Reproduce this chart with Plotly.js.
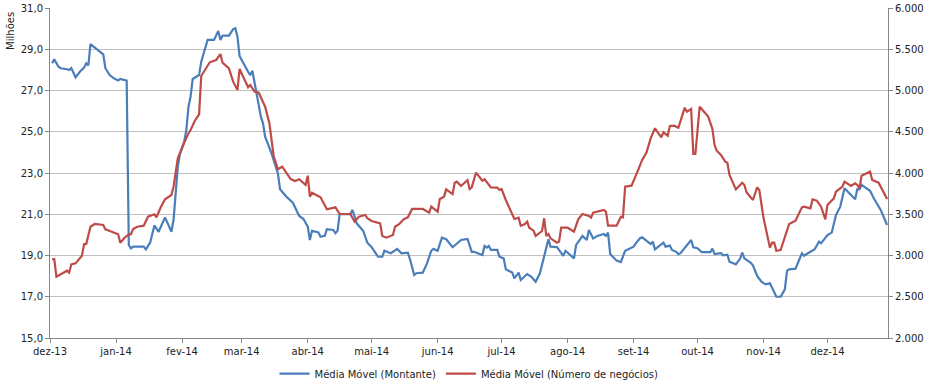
<!DOCTYPE html>
<html>
<head>
<meta charset="utf-8">
<script src="https://cdn.plot.ly/plotly-3.0.1.min.js"></script>
<style>html,body{margin:0;padding:0;background:#fff;}#chart{width:932px;height:382px;}</style>
</head>
<body>
<div id="chart"></div>
<script>
// Média Móvel (Montante), milhões
const montanteDates = ['2013-12-02','2013-12-03','2013-12-05','2013-12-06','2013-12-09','2013-12-10','2013-12-11','2013-12-13','2013-12-15','2013-12-17','2013-12-18','2013-12-19','2013-12-20','2013-12-22','2013-12-26','2013-12-27','2013-12-29','2013-12-31',
'2014-01-02','2014-01-03','2014-01-06','2014-01-07','2014-01-08','2014-01-09','2014-01-14','2014-01-15','2014-01-17','2014-01-19','2014-01-21','2014-01-24','2014-01-27','2014-01-28','2014-01-30','2014-01-31',
'2014-02-02','2014-02-03','2014-02-04','2014-02-05','2014-02-06','2014-02-09','2014-02-10','2014-02-13','2014-02-16','2014-02-18','2014-02-19','2014-02-20','2014-02-23','2014-02-25','2014-02-26','2014-02-27','2014-02-28',
'2014-03-04','2014-03-05','2014-03-06','2014-03-07','2014-03-08','2014-03-10','2014-03-11','2014-03-12','2014-03-15','2014-03-18','2014-03-19','2014-03-22','2014-03-25','2014-03-28','2014-03-30',
'2014-04-01','2014-04-02','2014-04-03','2014-04-06','2014-04-07','2014-04-09','2014-04-10','2014-04-13','2014-04-14','2014-04-15','2014-04-16','2014-04-21','2014-04-22','2014-04-24','2014-04-27','2014-04-29',
'2014-05-01','2014-05-04','2014-05-06','2014-05-07','2014-05-10','2014-05-13','2014-05-15','2014-05-18','2014-05-19','2014-05-21','2014-05-22','2014-05-25','2014-05-27','2014-05-29','2014-05-30',
'2014-06-01','2014-06-03','2014-06-05','2014-06-08','2014-06-12','2014-06-15','2014-06-17','2014-06-18','2014-06-22','2014-06-23','2014-06-24','2014-06-25','2014-06-26','2014-06-29','2014-06-30',
'2014-07-02','2014-07-03','2014-07-06','2014-07-07','2014-07-09','2014-07-10','2014-07-13','2014-07-15','2014-07-17','2014-07-19','2014-07-21','2014-07-23','2014-07-24','2014-07-27','2014-07-30','2014-07-31',
'2014-08-04','2014-08-05','2014-08-08','2014-08-10','2014-08-11','2014-08-13','2014-08-15','2014-08-18','2014-08-19','2014-08-20','2014-08-21','2014-08-24','2014-08-26','2014-08-28',
'2014-09-01','2014-09-02','2014-09-04','2014-09-05','2014-09-08','2014-09-09','2014-09-10','2014-09-11','2014-09-15','2014-09-16','2014-09-18','2014-09-19','2014-09-21','2014-09-22','2014-09-23','2014-09-25','2014-09-28','2014-09-29',
'2014-10-01','2014-10-03','2014-10-07','2014-10-08','2014-10-09','2014-10-12','2014-10-13','2014-10-15','2014-10-16','2014-10-19','2014-10-21','2014-10-22','2014-10-23','2014-10-26','2014-10-27','2014-10-29','2014-10-31',
'2014-11-02','2014-11-04','2014-11-07','2014-11-09','2014-11-11','2014-11-12','2014-11-13','2014-11-16','2014-11-19','2014-11-20','2014-11-23','2014-11-25','2014-11-27','2014-11-28',
'2014-12-01','2014-12-03','2014-12-05','2014-12-07','2014-12-09','2014-12-14','2014-12-15','2014-12-16','2014-12-17','2014-12-19','2014-12-21','2014-12-23','2014-12-26','2014-12-29'];
const montanteValues = [28.32,28.51,28.15,28.08,28.03,27.99,28.09,27.64,27.91,28.11,28.32,28.22,29.25,29.07,28.75,28.08,27.75,27.59,
27.49,27.56,27.48,19.51,19.35,19.43,19.43,19.30,19.62,20.46,20.15,20.85,20.15,20.72,23.31,23.92,
24.52,25.08,26.20,26.70,27.56,27.75,28.40,29.45,29.45,29.88,29.45,29.66,29.66,29.98,30.02,29.61,28.67,
27.91,27.75,27.96,27.35,26.86,25.73,25.41,24.76,23.95,22.98,22.21,21.85,21.56,20.92,20.77,
20.40,19.75,20.20,20.12,19.91,19.95,20.28,20.24,20.08,20.20,21.01,21.01,21.21,20.56,20.20,19.62,
19.40,18.94,18.94,19.23,19.11,19.32,19.11,19.14,18.82,18.05,18.14,18.17,18.62,19.23,19.32,
19.23,19.86,19.79,19.40,19.75,19.80,19.18,19.18,19.02,19.46,19.38,19.46,19.27,19.27,18.94,
18.86,18.33,18.17,17.89,18.17,17.81,18.10,17.97,17.73,18.14,18.94,19.79,19.43,19.41,18.98,19.23,
18.86,19.51,19.95,19.75,20.24,19.83,19.95,20.04,19.95,20.11,19.07,18.75,18.68,19.23,
19.43,19.59,19.84,19.88,19.64,19.56,19.67,19.30,19.62,19.43,19.48,19.27,19.18,19.06,19.11,19.38,19.75,19.40,
19.35,19.16,19.16,19.33,19.07,19.11,19.01,19.04,18.70,18.57,18.85,19.14,18.86,18.65,18.52,18.01,17.73,
17.60,17.65,17.00,17.00,17.36,18.26,18.33,18.36,19.11,18.99,19.18,19.30,19.67,19.59,
19.99,20.11,20.96,21.37,22.26,21.73,22.22,22.21,22.42,22.26,22.14,21.73,21.21,20.48];

// Média Móvel (Número de negócios)
const negociosDates = ['2013-12-02','2013-12-03','2013-12-04','2013-12-06','2013-12-09','2013-12-10','2013-12-11','2013-12-13','2013-12-16','2013-12-17','2013-12-18','2013-12-20','2013-12-22','2013-12-26','2013-12-27','2013-12-30',
'2014-01-02','2014-01-03','2014-01-05','2014-01-07','2014-01-08','2014-01-09','2014-01-11','2014-01-14','2014-01-16','2014-01-19','2014-01-20','2014-01-22','2014-01-24','2014-01-27','2014-01-28','2014-01-30','2014-01-31',
'2014-02-02','2014-02-04','2014-02-05','2014-02-07','2014-02-09','2014-02-10','2014-02-14','2014-02-17','2014-02-18','2014-02-19','2014-02-20','2014-02-23','2014-02-25','2014-02-27','2014-02-28',
'2014-03-02','2014-03-04','2014-03-05','2014-03-07','2014-03-09','2014-03-12','2014-03-14','2014-03-16','2014-03-18','2014-03-20','2014-03-24','2014-03-26','2014-03-28','2014-03-31',
'2014-04-01','2014-04-02','2014-04-03','2014-04-07','2014-04-10','2014-04-14','2014-04-16','2014-04-21','2014-04-23','2014-04-25','2014-04-28','2014-04-29',
'2014-05-01','2014-05-05','2014-05-06','2014-05-08','2014-05-11','2014-05-12','2014-05-14','2014-05-16','2014-05-18','2014-05-20','2014-05-22','2014-05-25','2014-05-28','2014-05-29',
'2014-06-01','2014-06-02','2014-06-04','2014-06-05','2014-06-08','2014-06-09','2014-06-10','2014-06-12','2014-06-15','2014-06-16','2014-06-17','2014-06-19','2014-06-22','2014-06-23','2014-06-26','2014-06-29','2014-06-30',
'2014-07-01','2014-07-03','2014-07-07','2014-07-09','2014-07-10','2014-07-12','2014-07-13','2014-07-14','2014-07-16','2014-07-17','2014-07-20','2014-07-21','2014-07-22','2014-07-23','2014-07-24','2014-07-27','2014-07-28','2014-07-29',
'2014-08-01','2014-08-04','2014-08-06','2014-08-08','2014-08-11','2014-08-12','2014-08-13','2014-08-18','2014-08-19','2014-08-20','2014-08-24','2014-08-26','2014-08-27','2014-08-28','2014-08-31',
'2014-09-03','2014-09-05','2014-09-07','2014-09-09','2014-09-11','2014-09-14','2014-09-15','2014-09-17','2014-09-18','2014-09-20','2014-09-22','2014-09-23','2014-09-25','2014-09-26','2014-09-27','2014-09-28','2014-09-29','2014-09-30',
'2014-10-02','2014-10-04','2014-10-06','2014-10-08','2014-10-09','2014-10-10','2014-10-12','2014-10-14','2014-10-15','2014-10-16','2014-10-19','2014-10-22','2014-10-23','2014-10-24','2014-10-26','2014-10-27','2014-10-29','2014-10-30',
'2014-11-01','2014-11-04','2014-11-05','2014-11-06','2014-11-07','2014-11-09','2014-11-13','2014-11-16','2014-11-19','2014-11-20','2014-11-23','2014-11-24','2014-11-26','2014-11-28','2014-11-30',
'2014-12-01','2014-12-04','2014-12-05','2014-12-08','2014-12-09','2014-12-12','2014-12-14','2014-12-15','2014-12-16','2014-12-17','2014-12-21','2014-12-22','2014-12-25','2014-12-29'];
const negociosValues = [2954,2958,2743,2776,2816,2792,2893,2905,2998,3139,3139,3349,3382,3370,3317,3289,
3257,3155,3216,3257,3257,3321,3349,3362,3470,3499,3463,3584,3681,3733,3834,4178,4246,
4367,4480,4521,4634,4711,5176,5342,5370,5410,5442,5337,5269,5107,5006,5261,
5148,5039,5067,4986,4973,4804,4603,4206,4045,4077,3927,3903,3924,3855,
3967,3713,3761,3705,3560,3584,3503,3503,3410,3470,3491,3451,
3418,3390,3236,3216,3248,3349,3382,3438,3463,3564,3564,3564,3519,3592,
3531,3685,3713,3802,3745,3882,3895,3842,3915,3806,3826,4004,3907,3924,3826,3822,3794,
3806,3673,3442,3458,3361,3382,3410,3337,3301,3236,3297,3451,3236,3261,3208,3155,3168,3337,
3337,3289,3438,3503,3479,3458,3519,3552,3531,3361,3361,3470,3463,3834,3846,
4028,4158,4246,4420,4542,4433,4493,4452,4570,4574,4549,4630,4792,4743,4764,4776,4230,4230,
4804,4743,4683,4533,4339,4270,4218,4137,4125,3976,3802,3882,3855,3766,3705,3673,3826,3794,
3451,3095,3155,3155,3058,3067,3382,3422,3584,3592,3572,3681,3665,3592,3438,
3612,3693,3774,3834,3895,3842,3875,3855,3814,3967,4016,3915,3882,3685];

const monthTicks = ['2013-12-01','2014-01-01','2014-02-01','2014-03-01','2014-04-01','2014-05-01','2014-06-01','2014-07-01','2014-08-01','2014-09-01','2014-10-01','2014-11-01','2014-12-01'];
const monthLabels = ['dez-13','jan-14','fev-14','mar-14','abr-14','mai-14','jun-14','jul-14','ago-14','set-14','out-14','nov-14','dez-14'];
const leftTicks = [15,17,19,21,23,25,27,29,31];
const leftLabels = ['15,0','17,0','19,0','21,0','23,0','25,0','27,0','29,0','31,0'];
const rightTicks = [2000,2500,3000,3500,4000,4500,5000,5500,6000];
const rightLabels = ['2.000','2.500','3.000','3.500','4.000','4.500','5.000','5.500','6.000'];

const font = {family: 'DejaVu Sans, Verdana, sans-serif', size: 10, color: '#222222'};
const axisGray = '#868686';

const traces = [
  {x: montanteDates, y: montanteValues, type: 'scatter', mode: 'lines', name: 'Média Móvel (Montante)',
   line: {color: '#4A7EBB', width: 2.2}, yaxis: 'y'},
  {x: negociosDates, y: negociosValues, type: 'scatter', mode: 'lines', name: 'Média Móvel (Número de negócios)',
   line: {color: '#BE4B48', width: 2.2}, yaxis: 'y2'}
];

const layout = {
  width: 932, height: 382,
  margin: {l: 50, r: 44, t: 8, b: 44, autoexpand: false},
  paper_bgcolor: '#ffffff', plot_bgcolor: '#ffffff',
  font: font,
  showlegend: true,
  legend: {orientation: 'h', x: 0.5, xanchor: 'center', xref: 'paper', yref: 'container', y: 0.022, yanchor: 'middle', font: font, itemwidth: 30, traceorder: 'normal', bgcolor: 'rgba(0,0,0,0)'},
  xaxis: {type: 'date', range: ['2013-12-01', '2014-12-29 10:00'], tickmode: 'array', tickvals: monthTicks, ticktext: monthLabels,
    showgrid: false, showline: true, linecolor: axisGray, linewidth: 1, ticks: 'outside', ticklen: 4, tickcolor: axisGray,
    tickfont: font, zeroline: false, fixedrange: true, automargin: false},
  yaxis: {range: [15, 31], tickmode: 'array', tickvals: leftTicks, ticktext: leftLabels, showgrid: true, gridcolor: '#C0C0C0', gridwidth: 1,
    showline: true, linecolor: axisGray, ticks: 'outside', ticklen: 4, tickcolor: axisGray, tickfont: font, zeroline: false, automargin: false},
  yaxis2: {range: [2000, 6000], overlaying: 'y', side: 'right', tickmode: 'array', tickvals: rightTicks, ticktext: rightLabels,
    showgrid: false, showline: true, linecolor: axisGray, ticks: 'outside', ticklen: 4, tickcolor: axisGray, tickfont: font, zeroline: false, automargin: false},
  annotations: [{text: 'Milhões', xref: 'paper', yref: 'paper', x: -0.048, y: 0.93, xanchor: 'center', yanchor: 'middle',
    textangle: -90, showarrow: false, font: {family: font.family, size: 10, color: '#222222'}}]
};

Plotly.newPlot('chart', traces, layout, {displayModeBar: false, staticPlot: true});
</script>
</body>
</html>
